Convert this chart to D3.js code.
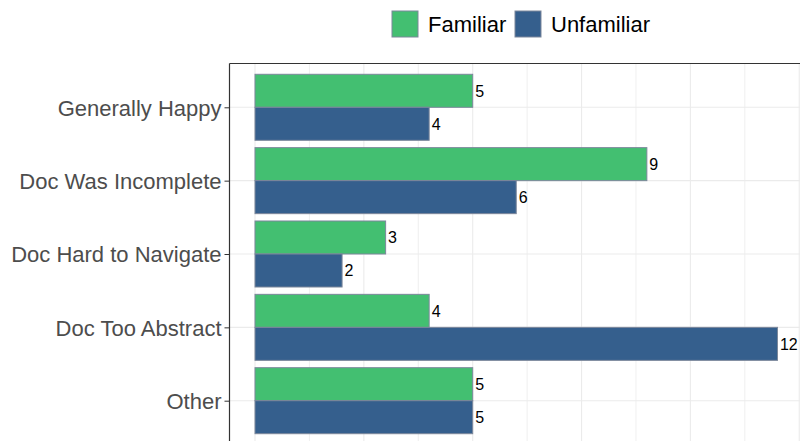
<!DOCTYPE html>
<html>
<head>
<meta charset="utf-8">
<script src="https://cdn.jsdelivr.net/npm/d3@7"></script>
<style>
  body { margin: 0; background: #fff; }
  text { font-family: "Liberation Sans", Arial, sans-serif; }
</style>
</head>
<body>
<script>
'use strict';

const categories = ["Generally Happy", "Doc Was Incomplete", "Doc Hard to Navigate", "Doc Too Abstract", "Other"];
const groups = ["Familiar", "Unfamiliar"];
const familiarValues = [5, 9, 3, 4, 5];
const unfamiliarValues = [4, 6, 2, 12, 5];
const colors = ["#43BF71", "#355F8D"];

const width = 800;
const height = 441;
const panel = { left: 229.5, top: 63.5, right: 830, bottom: 445 };

const svg = d3.select('body').append('svg')
  .attr('width', width)
  .attr('height', height);

const data = categories.map((c, i) => ({ cat: c, values: [familiarValues[i], unfamiliarValues[i]] }));

// x scale: 0 at 255, 5 at 472.7
const xScale = d3.scaleLinear()
  .domain([0, 5])
  .range([255, 472.7]);

const yScale = d3.scalePoint()
  .domain(categories)
  .range([107.3, 400.7]);

const step = yScale.step();
const barH = step * 0.9 / 2;

// grid lines
const gridG = svg.append('g');
const gridTicks = d3.range(0, 16, 1.25);
gridG.selectAll('line.v')
  .data(gridTicks)
  .enter().append('line')
  .attr('x1', d => xScale(d)).attr('x2', d => xScale(d))
  .attr('y1', panel.top).attr('y2', panel.bottom)
  .attr('stroke', '#EBEBEB')
  .attr('stroke-width', (d, i) => i % 2 === 0 ? 1.1 : 0.8);
gridG.selectAll('line.h')
  .data(categories)
  .enter().append('line')
  .attr('x1', panel.left).attr('x2', panel.right)
  .attr('y1', d => yScale(d)).attr('y2', d => yScale(d))
  .attr('stroke', '#EBEBEB')
  .attr('stroke-width', 1.1);

// bars
const catG = svg.selectAll('g.cat')
  .data(data)
  .enter().append('g')
  .attr('transform', d => 'translate(0,' + (yScale(d.cat) - barH) + ')');

catG.selectAll('rect')
  .data(d => d.values)
  .enter().append('rect')
  .attr('x', xScale(0))
  .attr('y', (d, i) => i * barH)
  .attr('width', d => xScale(d) - xScale(0))
  .attr('height', barH)
  .attr('fill', (d, i) => colors[i])
  .attr('stroke', '#7C879B')
  .attr('stroke-width', 1);

catG.selectAll('text')
  .data(d => d.values)
  .enter().append('text')
  .attr('x', d => xScale(d) + 2.5)
  .attr('y', (d, i) => i * barH + barH / 2)
  .attr('dy', '0.36em')
  .style('font-size', '16px')
  .attr('fill', '#000')
  .text(d => d);

// axis
const yAxis = d3.axisLeft(yScale).tickSize(5).tickPadding(3);
const axG = svg.append('g')
  .attr('transform', 'translate(' + panel.left + ',0)')
  .call(yAxis);
axG.select('.domain').remove();
axG.selectAll('line').attr('stroke', '#333');
axG.selectAll('text')
  .style('font-size', '22px')
  .attr('dy', '0.36em')
  .attr('fill', '#4D4D4D');

// panel border (top and left visible)
svg.append('line')
  .attr('x1', panel.left).attr('x2', panel.right)
  .attr('y1', panel.top).attr('y2', panel.top)
  .attr('stroke', '#333').attr('stroke-width', 1.2);
svg.append('line')
  .attr('x1', panel.left).attr('x2', panel.left)
  .attr('y1', panel.top).attr('y2', panel.bottom)
  .attr('stroke', '#333').attr('stroke-width', 1.2);

// legend
const legendX = [392, 515];
const legend = svg.selectAll('g.legend')
  .data(groups)
  .enter().append('g')
  .attr('transform', (d, i) => 'translate(' + legendX[i] + ',11)');
legend.append('rect')
  .attr('width', 26).attr('height', 26)
  .attr('fill', (d, i) => colors[i])
  .attr('stroke', '#7C879B');
legend.append('text')
  .attr('x', 36)
  .attr('y', 13)
  .attr('dy', '0.36em')
  .style('font-size', '22px')
  .attr('fill', '#000')
  .text(d => d);
</script>
</body>
</html>
